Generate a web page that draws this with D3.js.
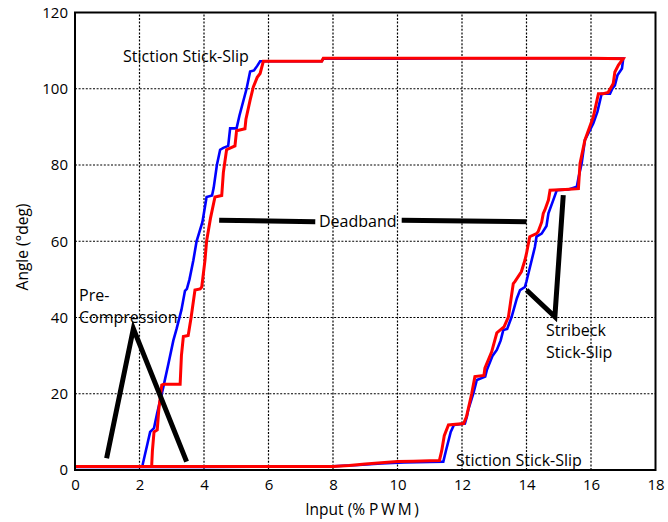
<!DOCTYPE html>
<html lang="en">
<head>
    <meta charset="UTF-8">
    <title>Angle vs Input hysteresis</title>
    <script src="https://cdn.jsdelivr.net/npm/d3@7/dist/d3.min.js"></script>
    <style>
        body { margin: 0; background: #fff; }
        text { font-family: "Open Sans", sans-serif; fill: #000; }
        .grid line { stroke: #000; stroke-width: 1.2; stroke-dasharray: 2,1.6; }
    </style>
</head>
<body>
    <script>
        // tick values
        var xTicks = [0, 2, 4, 6, 8, 10, 12, 14, 16, 18];
        var yTicks = [0, 20, 40, 60, 80, 100, 120];

        // blue run: bottom -> right ramp up -> top -> left ramp down
        var blueLoop = [
            [0, 0.8], [2, 0.8], [4, 0.8], [6, 0.9], [8, 1.0], [8.8, 1.3], [9.5, 1.7], [10.2, 2.0], [11.0, 2.1], [11.42, 2.2],
            [11.5, 5], [11.65, 10], [11.75, 11.8], [12.09, 12.2], [12.15, 14], [12.2, 16], [12.35, 20], [12.46, 23.6],
            [12.72, 24.5], [12.77, 26.2], [12.95, 30], [13.08, 31.5], [13.2, 34], [13.28, 36.7], [13.4, 37], [13.54, 40.2],
            [13.7, 45], [13.8, 47.2], [13.95, 48], [14.0, 49.5], [14.16, 55], [14.26, 58.5], [14.31, 61.2], [14.47, 62],
            [14.62, 64], [14.68, 67.3], [14.83, 70.8], [14.94, 73.4], [15.3, 73.6], [15.56, 74.3], [15.62, 77], [15.71, 80.4],
            [15.81, 86.5], [16.07, 90.9], [16.2, 94], [16.33, 98.7], [16.59, 98.7], [16.66, 100], [16.74, 100.9],
            [16.82, 103.5], [16.96, 105.3], [17.0, 107.9],
            [16, 108], [14, 108], [12, 108], [10, 107.9], [8, 107.9], [7.7, 107.9], [7.65, 107.2], [6.5, 107.2], [5.74, 107.2],
            [5.65, 106], [5.55, 104.8], [5.43, 104.5], [5.32, 100], [5.1, 93], [5.01, 89.6], [4.81, 89.6], [4.75, 85],
            [4.6, 84.5], [4.5, 84], [4.4, 80], [4.3, 74], [4.25, 72], [4.08, 71.6], [3.95, 65], [3.77, 60], [3.67, 55],
            [3.55, 50], [3.47, 47.5], [3.41, 47], [3.3, 42], [3.15, 37], [3.05, 34], [2.9, 28], [2.74, 21.8], [2.55, 15],
            [2.45, 11], [2.33, 10], [2.25, 7], [2.1, 1.5], [2.1, 0.8]
        ];

        // red run, same order
        var redLoop = [
            [0, 0.9], [2, 0.9], [4, 0.9], [6, 0.9], [8, 0.9], [8.5, 1.2], [9, 1.6], [9.5, 1.9], [10, 2.2], [10.5, 2.3],
            [11.0, 2.4], [11.3, 2.5],
            [11.37, 5], [11.45, 9], [11.58, 11.8], [12.05, 12.2], [12.14, 14], [12.3, 20], [12.4, 24.5], [12.68, 24.8],
            [12.71, 26.7], [12.92, 31], [13.08, 36], [13.18, 36.7], [13.3, 37.5], [13.44, 40.2], [13.59, 48.9],
            [13.64, 49.4], [13.84, 52], [13.95, 55], [14.0, 56.8], [14.1, 61.2], [14.31, 62], [14.36, 62.5], [14.47, 65],
            [14.52, 67.3], [14.57, 68.2], [14.68, 70.8], [14.73, 73.4], [15.2, 73.6], [15.61, 73.8], [15.66, 80.4],
            [15.81, 86.5], [16.07, 92.6], [16.23, 98.7], [16.38, 98.7], [16.53, 99], [16.69, 101.4], [16.74, 104.4],
            [16.85, 106.2], [17.0, 107.9],
            [16, 108], [12, 108], [9, 108], [7.7, 108], [7.65, 107.2], [6.5, 107.2], [5.84, 107.2],
            [5.74, 104], [5.65, 103], [5.53, 100.5], [5.43, 97], [5.3, 92], [5.27, 89.5], [5.01, 89], [4.96, 85],
            [4.7, 84], [4.6, 78], [4.55, 72], [4.34, 71.6], [4.2, 66], [4.08, 60], [4.03, 55], [3.93, 48], [3.88, 47.5],
            [3.72, 47.2], [3.6, 40], [3.51, 35.3], [3.36, 35], [3.3, 30], [3.26, 22.5], [2.75, 22.5], [2.69, 22.3],
            [2.6, 16], [2.55, 10.5], [2.45, 10], [2.4, 5], [2.38, 1.5], [2.38, 0.9]
        ];

        // annotation pointer lines (data coords)
        var preCompLine = [[0.98, 3.1], [1.81, 37.1], [3.46, 2.2]];
        var deadbandLeft = [[4.47, 65.5], [7.45, 65.1]];
        var deadbandRight = [[10.13, 65.5], [14.0, 65.1]];
        var stribeckLine = [[14.0, 47.2], [14.88, 40.2], [15.14, 72.1]];

        var margin = { top: 12.5, right: 12.5, bottom: 52, left: 75 },
            width = 668,
            height = 522;

        var x = d3.scaleLinear()
            .domain([0, 18])
            .range([margin.left, width - margin.right]);

        var y = d3.scaleLinear()
            .domain([0, 120])
            .range([height - margin.bottom, margin.top]);

        var svg = d3.select("body").append("svg")
            .attr("width", width)
            .attr("height", height);

        svg.append("rect")
            .attr("width", width)
            .attr("height", height)
            .attr("fill", "#fff");

        // dotted grid
        var grid = svg.append("g").attr("class", "grid");
        grid.selectAll(".vx")
            .data(xTicks.slice(1, -1))
            .enter().append("line")
            .attr("x1", d => x(d)).attr("x2", d => x(d))
            .attr("y1", y(0)).attr("y2", y(120));
        grid.selectAll(".hy")
            .data(yTicks.slice(1, -1))
            .enter().append("line")
            .attr("y1", d => y(d)).attr("y2", d => y(d))
            .attr("x1", x(0)).attr("x2", x(18));

        var line = d3.line()
            .x(d => x(d[0]))
            .y(d => y(d[1]));

        svg.append("path")
            .datum(blueLoop)
            .attr("fill", "none")
            .attr("stroke", "#0000ff")
            .attr("stroke-width", 2.6)
            .attr("d", line);

        svg.append("path")
            .datum(redLoop)
            .attr("fill", "none")
            .attr("stroke", "#ff0000")
            .attr("stroke-width", 3)
            .attr("d", line);

        // frame
        svg.append("rect")
            .attr("x", x(0))
            .attr("y", y(120))
            .attr("width", x(18) - x(0))
            .attr("height", y(0) - y(120))
            .attr("fill", "none")
            .attr("stroke", "#000")
            .attr("stroke-width", 2);

        // axes (labels only, ticks are the grid)
        var xAxis = d3.axisBottom(x).tickValues(xTicks).tickSize(0).tickPadding(9);
        var yAxis = d3.axisLeft(y).tickValues(yTicks).tickSize(0).tickPadding(7);

        svg.append("g")
            .attr("transform", "translate(0," + y(0) + ")")
            .call(xAxis)
            .call(g => g.select(".domain").remove())
            .selectAll("text")
            .attr("font-family", "Open Sans")
            .attr("font-size", 15);

        svg.append("g")
            .attr("transform", "translate(" + x(0) + ",0)")
            .call(yAxis)
            .call(g => g.select(".domain").remove())
            .selectAll("text")
            .attr("font-family", "Open Sans")
            .attr("font-size", 15);

        var xTitle = svg.append("text")
            .attr("x", 362)
            .attr("y", 515)
            .attr("text-anchor", "middle")
            .attr("font-size", 15.5);
        xTitle.append("tspan").text("Input (% ");
        xTitle.append("tspan").attr("letter-spacing", 2.5).text("PWM");
        xTitle.append("tspan").text(")");

        svg.append("text")
            .attr("transform", "translate(28,247) rotate(-90)")
            .attr("text-anchor", "middle")
            .attr("font-size", 15.5)
            .text("Angle (°deg)");

        // annotations
        var annot = svg.append("g");
        [preCompLine, deadbandLeft, deadbandRight, stribeckLine].forEach(function (pts) {
            annot.append("path")
                .datum(pts)
                .attr("fill", "none")
                .attr("stroke", "#000")
                .attr("stroke-width", 5)
                .attr("d", line);
        });

        function label(tx, ty, txt) {
            annot.append("text")
                .attr("x", tx)
                .attr("y", ty)
                .attr("font-size", 16)
                .text(txt);
        }
        label(123, 62, "Stiction Stick-Slip");
        label(79, 301, "Pre-");
        label(79, 323, "Compression");
        label(319, 227, "Deadband");
        label(546, 336, "Stribeck");
        label(546, 358, "Stick-Slip");
        label(456, 466, "Stiction Stick-Slip");
    </script>
</body>
</html>
